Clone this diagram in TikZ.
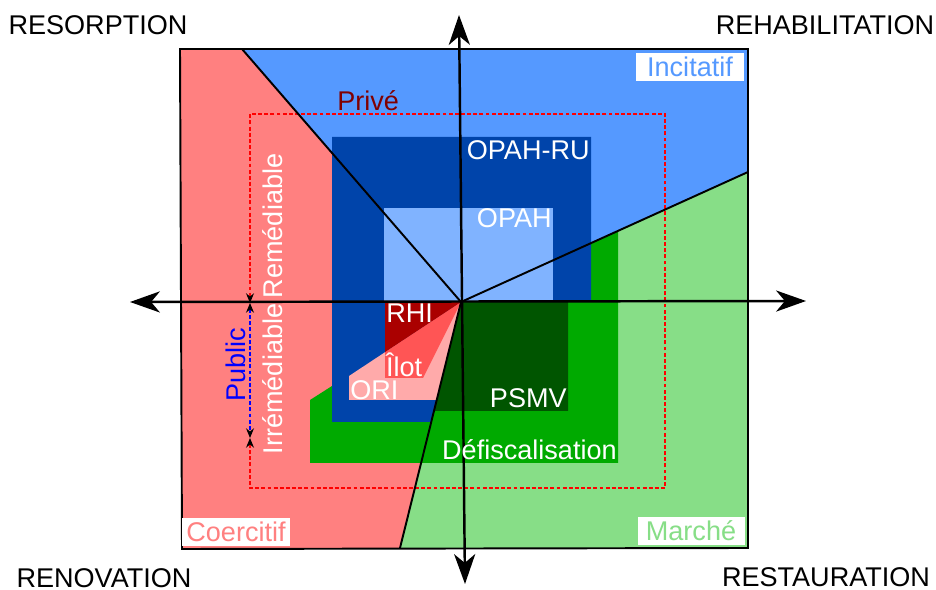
\documentclass[tikz,border=0pt]{standalone}
\usepackage{fontspec}
\setmainfont{Liberation Sans}
\usepackage{tikz}
\usetikzlibrary{arrows.meta}
\usepackage{xcolor}
\definecolor{coercitif}{HTML}{FF8080}
\definecolor{incitatif}{HTML}{5599FF}
\definecolor{marche}{HTML}{87DE87}
\definecolor{opahru}{HTML}{0044AA}
\definecolor{opah}{HTML}{80B3FF}
\definecolor{defisc}{HTML}{00AA00}
\definecolor{psmv}{HTML}{005500}
\definecolor{rhi}{HTML}{AA0000}
\definecolor{ilot}{HTML}{FF5555}
\definecolor{ori}{HTML}{FFAAAA}
\definecolor{prive}{HTML}{800000}

\begin{document}
\begin{tikzpicture}[
  x=0.02cm, y=-0.02cm,
  font=\fontsize{15.4}{18}\selectfont,
  axis/.style={line width=1.4pt,
    {Stealth[length=17pt,width=12pt,inset=5pt]}-{Stealth[length=17pt,width=12pt,inset=5pt]}},
  limit/.style={line width=1.1pt},
  tips/.style={{Stealth[length=5.5pt,width=4.5pt,black]}-{Stealth[length=5.5pt,width=4.5pt,black]}},
  dashline/.style={line width=0.7pt, dash pattern=on 2.2pt off 1.3pt},
  lbl/.style={text=white, inner sep=0pt},
  tag/.style={fill=white, inner sep=0pt, minimum height=0.57cm},
]
  \useasboundingbox (0,0) rectangle (936,590);

  \coordinate (c) at (461,302);
  \coordinate (nw) at (180,49);
  \coordinate (cut) at (242,49);
  \coordinate (ne) at (748,49);
  \coordinate (e) at (748,172);
  \coordinate (se) at (748,548);
  \coordinate (s) at (400,548);
  \coordinate (sw) at (182,549);

  \fill[coercitif] (nw) -- (cut) -- (c) -- (s) -- (sw) -- cycle;
  \fill[incitatif] (cut) -- (ne) -- (e) -- (c) -- cycle;
  \fill[marche] (e) -- (se) -- (s) -- (c) -- cycle;

  \fill[defisc] (310,463) -- (310,400) -- (332,386) -- (332,302) -- (591,302)
    -- (591,243) -- (618,231) -- (618,463) -- cycle;
  \fill[opahru] (332,137) -- (591,137) -- (591,302) -- (c) -- (431,422)
    -- (332,422) -- cycle;
  \fill[opah] (384,208) rectangle (553,302);
  \fill[psmv] (c) -- (568,302) -- (568,411) -- (434,411) -- cycle;
  \fill[ori] (349,376) -- (c) -- (437,400) -- (349,400) -- cycle;
  \fill[ilot] (c) -- (385,352) -- (423,378) -- cycle;
  \fill[rhi] (385,302) -- (c) -- (385,352) -- cycle;

  \coordinate (pubtop) at (250,303);
  \coordinate (pubbot) at (250,438);
  \draw[dashline, red, tips] (pubbot) -- (250,488) -- (665,488) -- (665,114)
    -- (250,114) -- (pubtop);
  \draw[dashline, blue, tips] (pubtop) -- (pubbot);

  \draw[limit] (c) -- (cut);
  \draw[limit] (c) -- (e);
  \draw[limit] (c) -- (s);

  \coordinate (top) at (459,15);
  \coordinate (bottom) at (465,584);
  \coordinate (left) at (130,302);
  \coordinate (right) at (806,301);
  \draw[axis] (top) -- (bottom);
  \draw[axis] (left) -- (right);

  \draw[limit, line join=miter] (nw) -- (ne) -- (se) -- (sw) -- cycle;

  \node[anchor=base] (resorption) at (98,35) {RESORPTION};
  \node[anchor=base] (rehabilitation) at (825,35) {REHABILITATION};
  \node[anchor=base] (renovation) at (104,587) {RENOVATION};
  \node[anchor=base] (restauration) at (826,586) {RESTAURATION};

  \node[tag, text=incitatif, minimum width=2.16cm] (incit) at (690,67) {Incitatif};
  \node[tag, text=coercitif, minimum width=2.16cm] (coerc) at (236,532) {Coercitif};
  \node[tag, text=marche, minimum width=2.14cm] (march) at (691,531) {Marché};

  \node[anchor=base west, text=prive, inner sep=0pt] (prv) at (337,111) {Privé};
  \node[lbl, anchor=base east] (opahrulbl) at (590,160) {OPAH-RU};
  \node[lbl, anchor=base east] (opahlbl) at (552,228) {OPAH};
  \node[lbl, anchor=base west] (rhilbl) at (386,323) {RHI};
  \node[lbl, anchor=south west, fill=ilot, inner sep=0.4pt] (ilotlbl) at (385,378) {Îlot};
  \node[lbl, anchor=base west] (orilbl) at (350,400) {ORI};
  \node[lbl, anchor=base east] (psmvlbl) at (567,408) {PSMV};
  \node[lbl, anchor=base east] (defisclbl) at (617,460) {Défiscalisation};

  \node[lbl, rotate=90] (remed) at (273,226) {Remédiable};
  \node[lbl, rotate=90] (irremed) at (273,379) {Irrémédiable};
  \node[text=blue, rotate=90, inner sep=0pt] (public) at (236,365) {Public};
\end{tikzpicture}
\end{document}
